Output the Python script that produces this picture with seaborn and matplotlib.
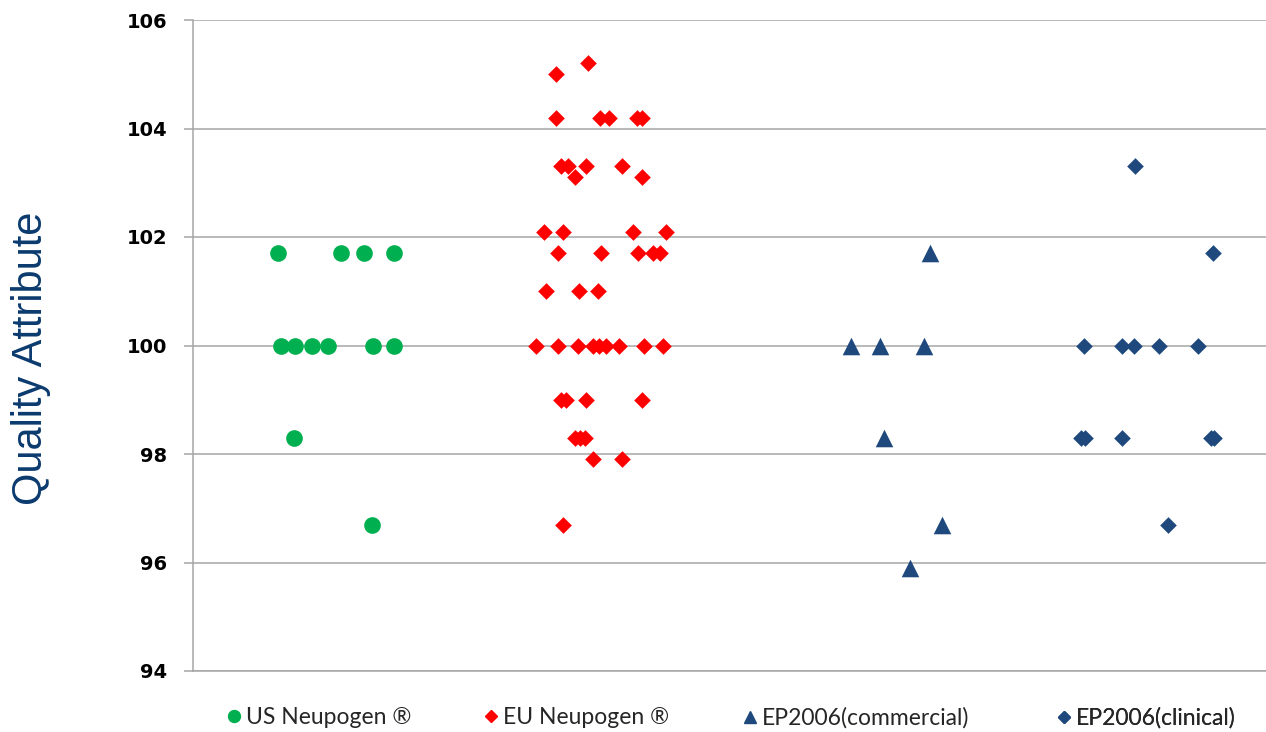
import numpy as np
import pandas as pd
import matplotlib.pyplot as plt
import seaborn as sns
from matplotlib.lines import Line2D

# x = spread position inside each group (arbitrary 0-100 units), y = quality attribute
us_x = [7.95, 13.82, 15.94, 18.70, 8.17, 9.53, 11.09, 12.61, 16.78, 18.70, 9.38, 16.65]
us_y = [101.7, 101.7, 101.7, 101.7, 100.0, 100.0, 100.0, 100.0, 100.0, 100.0, 98.3, 96.7]

eu_x = [36.78, 33.80,
        33.80, 37.93, 38.80, 41.41, 41.82,
        34.30, 34.98, 36.66, 40.01,
        35.60, 41.82,
        32.69, 34.45, 40.98, 44.08,
        34.04, 38.02, 41.44, 42.90, 43.52,
        32.87, 35.97, 37.77,
        31.94, 34.04, 35.85, 37.30, 37.84, 38.49, 39.73, 42.03, 43.83,
        34.34, 34.72, 36.67, 41.82,
        35.60, 36.07, 36.53,
        37.25, 40.01,
        34.49]
eu_y = [105.2, 105.0,
        104.2, 104.2, 104.2, 104.2, 104.2,
        103.3, 103.3, 103.3, 103.3,
        103.1, 103.1,
        102.1, 102.1, 102.1, 102.1,
        101.7, 101.7, 101.7, 101.7, 101.7,
        101.0, 101.0, 101.0,
        100.0, 100.0, 100.0, 100.0, 100.0, 100.0, 100.0, 100.0, 100.0,
        99.0, 99.0, 99.0, 99.0,
        98.3, 98.3, 98.3,
        97.9, 97.9,
        96.7]

com_x = [68.69, 61.30, 64.03, 68.10, 64.40, 69.78, 66.80]
com_y = [101.7, 100.0, 100.0, 100.0, 98.3, 96.7, 95.9]

cli_x = [87.79, 95.09, 83.07, 86.55, 87.70, 90.03, 93.63, 82.76, 83.09, 86.61, 94.83, 95.15, 90.89]
cli_y = [103.3, 101.7, 100.0, 100.0, 100.0, 100.0, 100.0, 98.3, 98.3, 98.3, 98.3, 98.3, 96.7]

groups = ['US Neupogen ®', 'EU Neupogen ®', 'EP2006(commercial)', 'EP2006(clinical)']
colors = {'US Neupogen ®': '#00B050', 'EU Neupogen ®': '#FF0000',
          'EP2006(commercial)': '#1F497D', 'EP2006(clinical)': '#1F497D'}
markers = {'US Neupogen ®': 'o', 'EU Neupogen ®': 'D',
           'EP2006(commercial)': '^', 'EP2006(clinical)': 'D'}
sizes = {'US Neupogen ®': 144, 'EU Neupogen ®': 72,
         'EP2006(commercial)': 160, 'EP2006(clinical)': 72}
leg_ms = {'US Neupogen ®': 8.6, 'EU Neupogen ®': 6.1,
          'EP2006(commercial)': 8.2, 'EP2006(clinical)': 6.1}

df = pd.concat([
    pd.DataFrame({'x': us_x, 'y': us_y, 'group': groups[0]}),
    pd.DataFrame({'x': eu_x, 'y': eu_y, 'group': groups[1]}),
    pd.DataFrame({'x': com_x, 'y': com_y, 'group': groups[2]}),
    pd.DataFrame({'x': cli_x, 'y': cli_y, 'group': groups[3]}),
])

sns.set_style('white')
plt.rcParams['font.family'] = ['DejaVu Sans']

fig = plt.figure(figsize=(12.66, 7.32), dpi=100)
ax = fig.add_axes([193 / 1266, 1 - 671 / 732, 1 - 193 / 1266, 651 / 732])

for g in groups:
    sub = df[df['group'] == g]
    sns.scatterplot(data=sub, x='x', y='y', marker=markers[g], color=colors[g],
                    s=sizes[g], linewidth=0, ax=ax, legend=False, zorder=3)

ax.set_xlim(0, 100)
ax.set_ylim(94, 106)
ax.set_yticks(np.arange(94, 107, 2))
ax.set_xticks([])
ax.set_xlabel('')
ax.set_ylabel('')
ax.grid(axis='y', color='#A6A6A6', linewidth=1.1)
ax.set_axisbelow(True)
for side in ['top', 'right']:
    ax.spines[side].set_visible(False)
for side in ['left', 'bottom']:
    ax.spines[side].set_color('#A6A6A6')
    ax.spines[side].set_linewidth(1.1)
ax.tick_params(axis='y', left=True, length=6.5, width=1.1, color='#A6A6A6',
               pad=12, labelsize=14, labelcolor='black')
for lab in ax.get_yticklabels():
    lab.set_fontweight('bold')

fig.text(31 / 1266, 1 - 358 / 732, 'Quality Attribute', rotation=90,
         ha='center', va='center', fontsize=30, color='#0B3A6E',
         family='Liberation Sans')

# one legend per entry, Excel-like spacing along the bottom
leg_x = [228, 485, 744, 1058]
for g, lx in zip(groups, leg_x):
    h = Line2D([], [], ls='', marker=markers[g], color=colors[g], markersize=leg_ms[g])
    leg = ax.legend(handles=[h], labels=[g], loc='center left',
                    bbox_to_anchor=(lx / 1266, 1 - 718 / 732), bbox_transform=fig.transFigure,
                    frameon=False, borderpad=0, borderaxespad=0, handlelength=0.5,
                    handletextpad=0.3, prop={'family': 'Lato', 'size': 16.5})
    for t in leg.get_texts():
        t.set_color('#262626')
    ax.add_artist(leg)

fig.savefig('out.png', dpi=100)
